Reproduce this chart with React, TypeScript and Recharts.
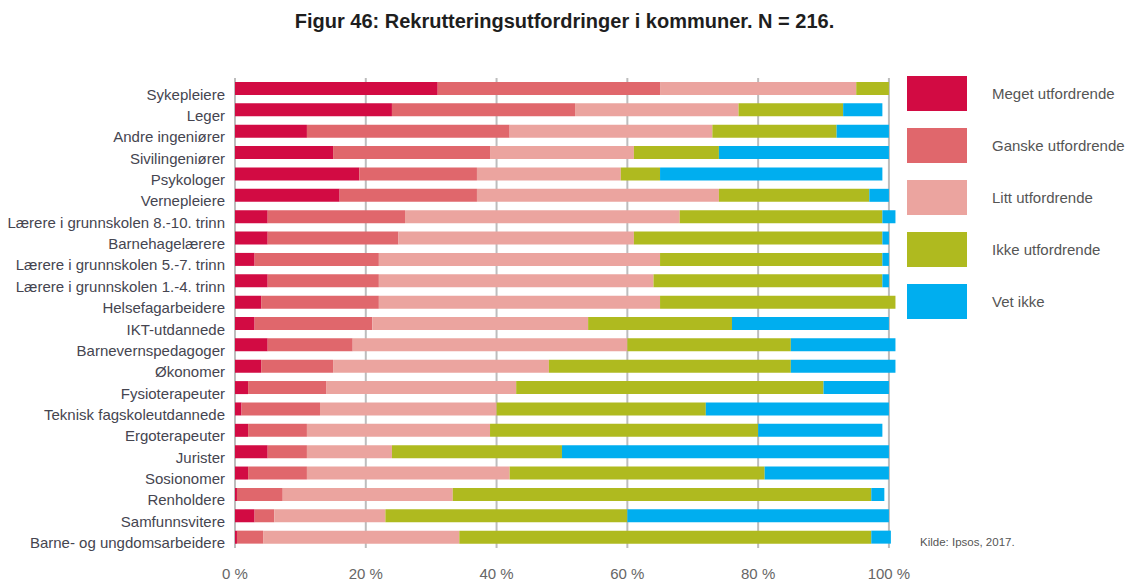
import { BarChart, Bar, XAxis, YAxis, CartesianGrid } from 'recharts';

const categories = [
  'Sykepleiere',
  'Leger',
  'Andre ingeniører',
  'Sivilingeniører',
  'Psykologer',
  'Vernepleiere',
  'Lærere i grunnskolen 8.-10. trinn',
  'Barnehagelærere',
  'Lærere i grunnskolen 5.-7. trinn',
  'Lærere i grunnskolen 1.-4. trinn',
  'Helsefagarbeidere',
  'IKT-utdannede',
  'Barnevernspedagoger',
  'Økonomer',
  'Fysioterapeuter',
  'Teknisk fagskoleutdannede',
  'Ergoterapeuter',
  'Jurister',
  'Sosionomer',
  'Renholdere',
  'Samfunnsvitere',
  'Barne- og ungdomsarbeidere',
];

const meget = [31, 24, 11, 15, 19, 16, 5, 5, 3, 5, 4, 3, 5, 4, 2, 1, 2, 5, 2, 0.3, 3, 0.3];
const ganske = [34, 28, 31, 24, 18, 21, 21, 20, 19, 17, 18, 18, 13, 11, 12, 12, 9, 6, 9, 7, 3, 4];
const litt = [30, 25, 31, 22, 22, 37, 42, 36, 43, 42, 43, 33, 42, 33, 29, 27, 28, 13, 31, 26, 17, 30];
const ikke = [5, 16, 19, 13, 6, 23, 31, 38, 34, 35, 36, 22, 25, 37, 47, 32, 41, 26, 39, 64, 37, 63];
const vetIkke = [0, 6, 8, 26, 34, 3, 2, 1, 1, 1, 0, 24, 16, 16, 10, 28, 19, 50, 19, 2, 40, 3];

const xTicks = [0, 20, 40, 60, 80, 100];
const xDomain = [0, 102];

const series = [
  { key: 'meget', name: 'Meget utfordrende', color: '#D20B43' },
  { key: 'ganske', name: 'Ganske utfordrende', color: '#E0676C' },
  { key: 'litt', name: 'Litt utfordrende', color: '#EBA49F' },
  { key: 'ikke', name: 'Ikke utfordrende', color: '#AFBA1F' },
  { key: 'vetIkke', name: 'Vet ikke', color: '#00AEEF' },
];

const data = categories.map((name, i) => ({
  name,
  meget: meget[i],
  ganske: ganske[i],
  litt: litt[i],
  ikke: ikke[i],
  vetIkke: vetIkke[i],
}));

const font = '"Liberation Sans", Arial, sans-serif';

const CategoryTick = (props: any) => {
  const { x, y, payload } = props;
  return (
    <text x={x} y={y + 5.5} dy="0.355em" textAnchor="end" fontSize={15} fill="#454550" fontFamily={font}>
      {payload.value}
    </text>
  );
};

// grid only at the real ticks, not at the padded domain edge
const gridAtTicks = (props: any) => {
  const s = props?.xAxis?.scale;
  if (typeof s === 'function') return xTicks.map((t) => s(t));
  if (s && typeof s.map === 'function') return xTicks.map((t) => s.map(t));
  const off = props?.offset;
  if (!off) return [];
  return xTicks.map((t) => off.left + ((t - xDomain[0]) / (xDomain[1] - xDomain[0])) * off.width);
};

export default function App() {
  return (
    <div style={{ position: 'absolute', left: 0, top: 0, width: 1129, height: 581, background: '#fff', fontFamily: font }}>
      <div
        style={{
          position: 'absolute',
          left: 0,
          top: 10,
          width: 1129,
          textAlign: 'center',
          fontWeight: 'bold',
          fontSize: 20,
          color: '#1e1e1e',
        }}
      >
        Figur 46: Rekrutteringsutfordringer i kommuner. N = 216.
      </div>
      <BarChart
        width={1129}
        height={581}
        data={data}
        layout="vertical"
        margin={{ top: 78, right: 227, bottom: 3, left: 8 }}
        barSize={13}
      >
        <CartesianGrid
          horizontal={false}
          vertical
          stroke="#bdbdbd"
          strokeWidth={2}
          verticalCoordinatesGenerator={gridAtTicks}
        />
        <XAxis
          type="number"
          domain={xDomain}
          ticks={xTicks}
          tickFormatter={(v) => `${v} %`}
          axisLine={false}
          tickLine={false}
          tickSize={0}
          tickMargin={20}
          height={30}
          tick={{ fontSize: 15, fill: '#666', fontFamily: font }}
        />
        <YAxis
          type="category"
          dataKey="name"
          width={227}
          axisLine={false}
          tickLine={false}
          tickSize={0}
          tickMargin={10}
          interval={0}
          tick={<CategoryTick />}
        />
        {series.map((s) => (
          <Bar key={s.key} dataKey={s.key} name={s.name} stackId="a" fill={s.color} isAnimationActive={false} />
        ))}
      </BarChart>
      <div style={{ position: 'absolute', left: 907, top: 76 }}>
        {series.map((s) => (
          <div key={s.key} style={{ display: 'flex', alignItems: 'center', height: 35, marginBottom: 17 }}>
            <div style={{ width: 60, height: 35, background: s.color }} />
            <span style={{ marginLeft: 25, fontSize: 15, color: '#555' }}>{s.name}</span>
          </div>
        ))}
      </div>
      <div style={{ position: 'absolute', left: 920, top: 536, fontSize: 11.5, color: '#555' }}>Kilde: Ipsos, 2017.</div>
    </div>
  );
}
